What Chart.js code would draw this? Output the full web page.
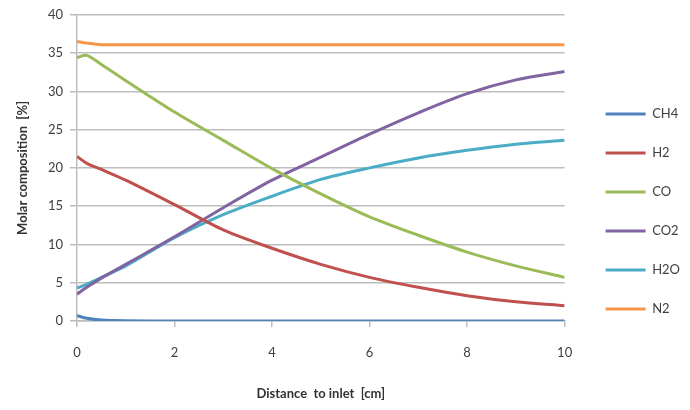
<!DOCTYPE html>
<html>
<head>
<meta charset="utf-8">
<script src="https://cdn.jsdelivr.net/npm/chart.js@4/dist/chart.umd.min.js"></script>
<style>
  html, body { margin: 0; padding: 0; background: #fff; }
  #wrap { width: 690px; height: 410px; }
</style>
</head>
<body>
<div id="wrap"><canvas id="chart"></canvas></div>
<script>
const distance = [0, 0.2, 0.5, 1, 2, 3, 4, 5, 6, 7, 8, 9, 10]
const ch4 = [0.7, 0.35, 0.12, 0.03, 0, 0, 0, 0, 0, 0, 0, 0, 0]
const h2 = [21.5, 20.6, 19.8, 18.4, 15.2, 11.9, 9.5, 7.4, 5.7, 4.4, 3.3, 2.5, 2.0]
const co = [34.4, 34.7, 33.5, 31.4, 27.3, 23.6, 19.9, 16.6, 13.6, 11.2, 9.0, 7.2, 5.7]
const co2 = [3.5, 4.4, 5.6, 7.4, 11.0, 14.8, 18.4, 21.4, 24.4, 27.2, 29.7, 31.5, 32.6]
const h2o = [4.3, 4.8, 5.7, 7.2, 10.9, 13.9, 16.3, 18.5, 20.0, 21.3, 22.3, 23.1, 23.6]
const n2 = [36.5, 36.3, 36.1, 36.1, 36.1, 36.1, 36.1, 36.1, 36.1, 36.1, 36.1, 36.1, 36.1]
const seriesNames = ['CH4', 'H2', 'CO', 'CO2', 'H2O', 'N2']
const seriesColors = ['#4F81BD', '#C0504D', '#9BBB59', '#8064A2', '#4BACC6', '#F79646']
const yTicks = [0, 5, 10, 15, 20, 25, 30, 35, 40]
const xTicks = [0, 2, 4, 6, 8, 10]

const allSeries = [ch4, h2, co, co2, h2o, n2]
const toPoints = (arr) => arr.map((v, i) => ({x: distance[i], y: v}))

const font = "Lato, 'Open Sans', sans-serif"
const gridColor = '#bdbdbd'

const ctx = document.getElementById('chart').getContext('2d')

new Chart(ctx, {
  type: 'line',
  data: {
    datasets: allSeries.map((arr, i) => ({
      label: seriesNames[i],
      data: toPoints(arr),
      borderColor: seriesColors[i],
      backgroundColor: seriesColors[i],
      borderWidth: 3,
      pointRadius: 0,
      pointStyle: 'line',
      tension: 0.3,
      fill: false
    }))
  },
  options: {
    responsive: true,
    maintainAspectRatio: false,
    animation: false,
    layout: {padding: {top: 13, left: 0, right: 0, bottom: 0}},
    plugins: {
      tooltip: {enabled: false},
      legend: {
        position: 'right',
        labels: {
          usePointStyle: true,
          pointStyle: 'line',
          pointStyleWidth: 40,
          padding: 26,
          color: '#404040',
          font: {family: font, size: 13}
        }
      }
    },
    scales: {
      x: {
        type: 'linear',
        min: 0,
        max: 10,
        afterFit: (scale) => { scale.height = 89 },
        afterBuildTicks: (scale) => { scale.ticks = xTicks.map(v => ({value: v})) },
        grid: {drawOnChartArea: false, drawTicks: true, tickLength: 6, color: gridColor, lineWidth: 1.5},
        border: {display: true, color: gridColor, width: 1.5},
        ticks: {color: '#404040', padding: 18, maxRotation: 0, font: {family: font, size: 13}},
        title: {
          display: true,
          text: 'Distance  to inlet  [cm]',
          color: '#333333',
          padding: {top: 0, bottom: 8},
          font: {family: font, size: 13, weight: 'bold'}
        }
      },
      y: {
        min: 0,
        max: 40,
        afterFit: (scale) => { scale.width = 77 },
        afterBuildTicks: (scale) => { scale.ticks = yTicks.map(v => ({value: v})) },
        grid: {color: gridColor, lineWidth: 1.5, tickLength: 7},
        border: {display: true, color: gridColor, width: 1.5},
        ticks: {color: '#404040', padding: 7, font: {family: font, size: 13}},
        title: {
          display: true,
          text: 'Molar composition  [%]',
          color: '#333333',
          padding: {top: 15, bottom: 0},
          font: {family: font, size: 13, weight: 'bold'}
        }
      },
      // empty axis, only keeps a gap between the plot and the legend
      gap: {
        type: 'linear',
        position: 'right',
        display: true,
        afterFit: (scale) => { scale.width = 15 },
        grid: {display: false},
        border: {display: false},
        ticks: {display: false}
      }
    }
  }
})
</script>
</body>
</html>
